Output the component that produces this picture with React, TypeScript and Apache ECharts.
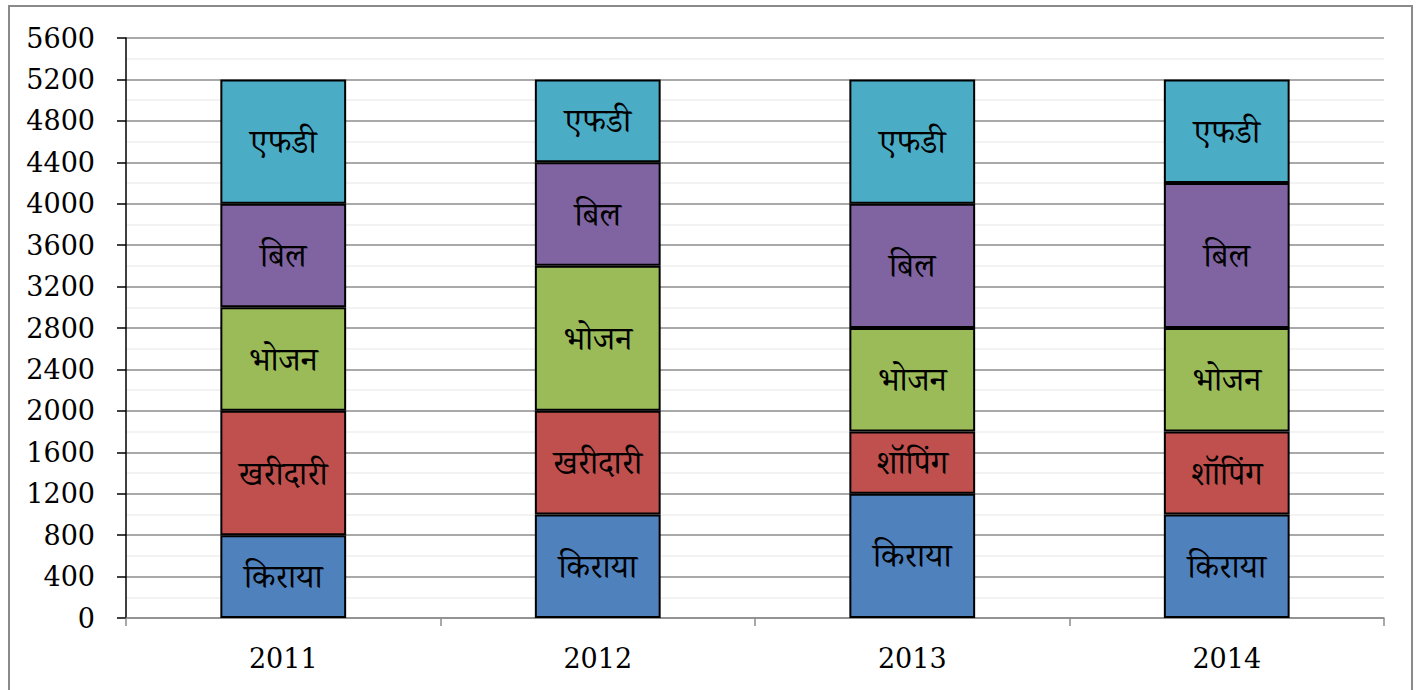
import React, { useEffect, useRef } from "react";
import * as echarts from "echarts";

const years = ["2011", "2012", "2013", "2014"];
const rent = [800, 1000, 1200, 1000];
const shopping = [1200, 1000, 600, 800];
const food = [1000, 1400, 1000, 1000];
const bills = [1000, 1000, 1200, 1400];
const fd = [1200, 800, 1200, 1000];

const rentLabels = ["किराया", "किराया", "किराया", "किराया"];
const shoppingLabels = ["खरीदारी", "खरीदारी", "शॉपिंग", "शॉपिंग"];
const foodLabels = ["भोजन", "भोजन", "भोजन", "भोजन"];
const billLabels = ["बिल", "बिल", "बिल", "बिल"];
const fdLabels = ["एफडी", "एफडी", "एफडी", "एफडी"];

const FONT = "'DejaVu Serif', 'Noto Serif Devanagari', 'Noto Sans Devanagari', serif";

export default function App() {
  const ref = useRef<HTMLDivElement>(null);
  useEffect(() => {
    const chart = echarts.init(ref.current!, null, { renderer: "svg" });
    const mk = (name: string, data: number[], labels: string[], color: string) => ({
      name,
      type: "bar",
      stack: "total",
      barWidth: "40%",
      data,
      itemStyle: { color, borderColor: "#000", borderWidth: 2 },
      label: {
        show: true,
        position: "inside",
        color: "#000",
        fontSize: 33,
        fontWeight: "normal",
        fontFamily: FONT,
        formatter: (p: any) => labels[p.dataIndex],
      },
    });
    chart.setOption({
      animation: false,
      textStyle: { fontFamily: FONT },
      grid: { left: 126, right: 34, top: 38, bottom: 72 },
      graphic: [
        {
          type: "rect",
          shape: { x: 9, y: 6, width: 1403, height: 700 },
          style: { fill: "none", stroke: "#8a8a8a", lineWidth: 2 },
          silent: true,
        },
      ],
      xAxis: {
        type: "category",
        data: years,
        axisLine: { lineStyle: { color: "#8c8c8c", width: 1.5 } },
        axisTick: { show: true, length: 8, lineStyle: { color: "#8c8c8c", width: 1.5 } },
        axisLabel: { color: "#000", fontSize: 27, fontFamily: FONT, margin: 27 },
      },
      yAxis: {
        type: "value",
        min: 0,
        max: 5600,
        interval: 400,
        axisLine: { show: true, lineStyle: { color: "#000", width: 1.5 } },
        axisTick: { show: true, length: 9, lineStyle: { color: "#000", width: 1.5 } },
        axisLabel: {
          color: "#000",
          fontSize: 27,
          fontFamily: FONT,
          margin: 31,
          formatter: (v: number) => String(v),
        },
        splitLine: { show: true, lineStyle: { color: "#8c8c8c", width: 1.5 } },
        minorTick: { show: false, splitNumber: 2 },
        minorSplitLine: { show: true, lineStyle: { color: "#efefef", width: 1.5 } },
      },
      series: [
        mk("किराया", rent, rentLabels, "#4F81BD"),
        mk("शॉपिंग", shopping, shoppingLabels, "#C0504D"),
        mk("भोजन", food, foodLabels, "#9BBB59"),
        mk("बिल", bills, billLabels, "#8064A2"),
        mk("एफडी", fd, fdLabels, "#4BACC6"),
      ],
    });
    return () => chart.dispose();
  }, []);
  return (
    <div
      ref={ref}
      style={{ position: "fixed", left: 0, top: 0, width: 1418, height: 690, background: "#fff" }}
    />
  );
}
